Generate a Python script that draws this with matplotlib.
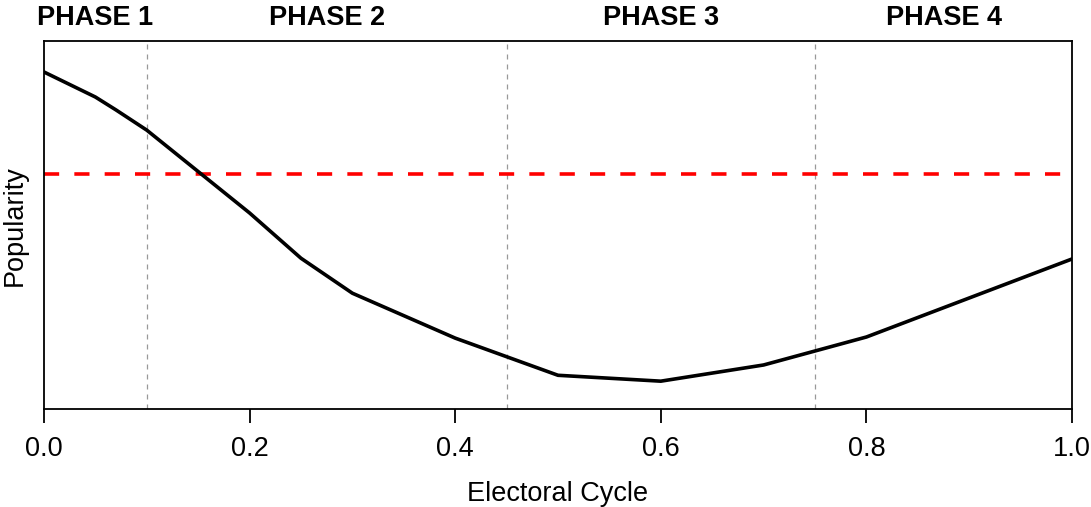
import matplotlib
matplotlib.use("Agg")
import matplotlib.pyplot as plt

plt.rcParams["font.family"] = ["Liberation Sans", "DejaVu Sans"]

# curve of popularity over the electoral cycle
cycle = [0.0, 0.05, 0.07, 0.1, 0.2, 0.25, 0.3, 0.4, 0.5, 0.6, 0.7, 0.8, 1.0]
popularity = [0.916, 0.848, 0.813, 0.758, 0.533, 0.410, 0.315, 0.193,
              0.092, 0.076, 0.120, 0.196, 0.408]
threshold = 0.639

phase_bounds = [0.1, 0.45, 0.75]
phase_names = ["PHASE 1", "PHASE 2", "PHASE 3", "PHASE 4"]
phase_centers = [0.05, 0.275, 0.6, 0.875]
x_ticks = [0.0, 0.2, 0.4, 0.6, 0.8, 1.0]

fs = 19.5

fig, ax = plt.subplots(figsize=(10.91, 5.07), dpi=100)
fig.subplots_adjust(left=0.0403, right=0.9826, top=0.919, bottom=0.193)

ax.plot(cycle, popularity, color="black", lw=2.6, zorder=3)
ax.axhline(threshold, color="#ff0000", lw=2.6, dashes=(4.2, 4.2), zorder=2)
for b in phase_bounds:
    ax.axvline(b, color="#999999", lw=0.9, dashes=(4, 4), zorder=1)

for name, c in zip(phase_names, phase_centers):
    ax.annotate(name, xy=(c, 1.0), xycoords=("data", "axes fraction"),
                xytext=(0, 11.5), textcoords="offset points",
                ha="center", va="baseline", fontsize=fs, fontweight="bold")

ax.set_xlim(0, 1)
ax.set_ylim(0, 1)
ax.set_xticks(x_ticks)
ax.set_xticklabels([f"{t:.1f}" for t in x_ticks])
ax.set_yticks([])
ax.tick_params(axis="x", direction="out", length=10, width=1.3,
               labelsize=fs, pad=9)
for s in ax.spines.values():
    s.set_linewidth(1.3)

ax.set_xlabel("Electoral Cycle", fontsize=fs, labelpad=14)
ax.set_ylabel("Popularity", fontsize=fs, labelpad=12)

plt.savefig("out.png", dpi=100)
plt.close(fig)
